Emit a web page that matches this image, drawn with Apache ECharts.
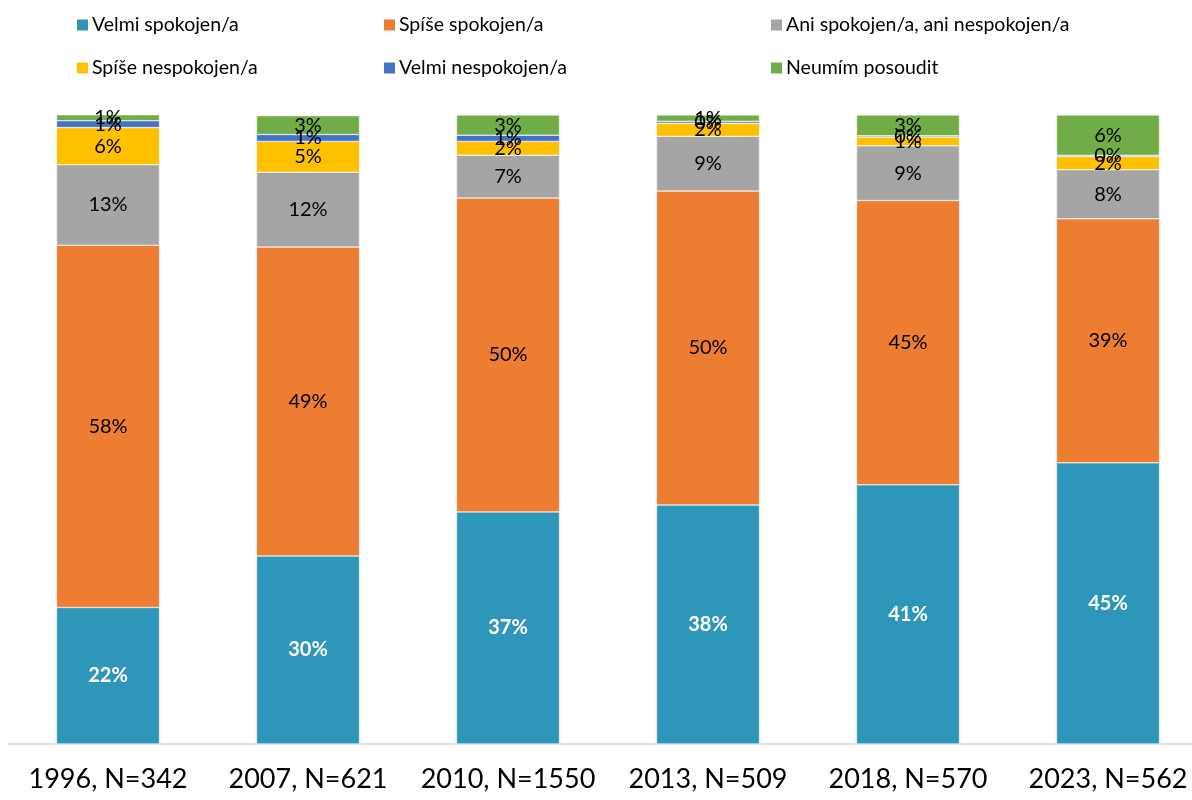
<!DOCTYPE html>
<html>
<head>
<meta charset="utf-8">
<script src="https://cdn.jsdelivr.net/npm/echarts@6/dist/echarts.min.js"></script>
<style>
  html, body { margin: 0; padding: 0; background: #fff; }
  #chart { width: 1192px; height: 800px; }
</style>
</head>
<body>
<div id="chart"></div>
<script>
// survey waves
const categories = ['1996, N=342', '2007, N=621', '2010, N=1550', '2013, N=509', '2018, N=570', '2023, N=562'];

// shares in %
const velmiSpokojen = [21.7, 29.9, 36.9, 38.0, 41.2, 44.7];
const spiseSpokojen = [57.6, 49.1, 49.9, 49.9, 45.2, 38.8];
const aniAni = [12.8, 11.9, 6.8, 8.7, 8.7, 7.8];
const spiseNespokojen = [5.9, 4.9, 2.2, 2.1, 1.4, 2.1];
const velmiNespokojen = [1.1, 1.1, 1.0, 0.3, 0.2, 0.2];
const neumim = [1.0, 3.0, 3.2, 1.0, 3.3, 6.4];

const names = ['Velmi spokojen/a', 'Spíše spokojen/a', 'Ani spokojen/a, ani nespokojen/a',
  'Spíše nespokojen/a', 'Velmi nespokojen/a', 'Neumím posoudit'];
const colors = ['#2e96b8', '#ed7d31', '#a5a5a5', '#ffc000', '#4472c4', '#70ad47'];
const values = [velmiSpokojen, spiseSpokojen, aniAni, spiseNespokojen, velmiNespokojen, neumim];

const font = 'Lato';

const series = values.map((v, i) => ({
    name: names[i],
    type: 'bar',
    stack: 'total',
    data: v,
    barCategoryGap: '48.5%',
    itemStyle: { color: colors[i], borderColor: '#fff', borderWidth: 0.5 },
    label: {
        show: true,
        position: 'inside',
        formatter: p => Math.round(p.value) + '%',
        fontFamily: font,
        fontSize: 20,
        color: i === 0 ? '#fff' : '#000',
        fontWeight: i === 0 ? 'bold' : 'normal'
    }
}));

const legendBase = {
    orient: 'vertical',
    top: 10,
    itemWidth: 13,
    itemHeight: 13,
    itemGap: 23,
    icon: 'rect',
    textStyle: { fontFamily: font, fontSize: 19.5, color: '#000', padding: [0, 0, 0, -2] }
};

const chart = echarts.init(document.getElementById('chart'));
chart.setOption({
    animation: false,
    color: colors,
    legend: [
        Object.assign({}, legendBase, { left: 70, data: [names[0], names[3]] }),
        Object.assign({}, legendBase, { left: 377, data: [names[1], names[4]] }),
        Object.assign({}, legendBase, { left: 764, data: [names[2], names[5]] })
    ],
    grid: { left: 8, width: 1200, top: 115, bottom: 56, outerBoundsMode: 'none', containLabel: false },
    xAxis: {
        type: 'category',
        data: categories,
        axisTick: { show: false },
        axisLine: { lineStyle: { color: '#d9d9d9', width: 1.5 } },
        axisLabel: { fontFamily: font, fontSize: 27, color: '#000', margin: 22, interval: 0 }
    },
    yAxis: {
        type: 'value',
        min: 0,
        max: 100,
        show: false
    },
    series: series
});
</script>
</body>
</html>
